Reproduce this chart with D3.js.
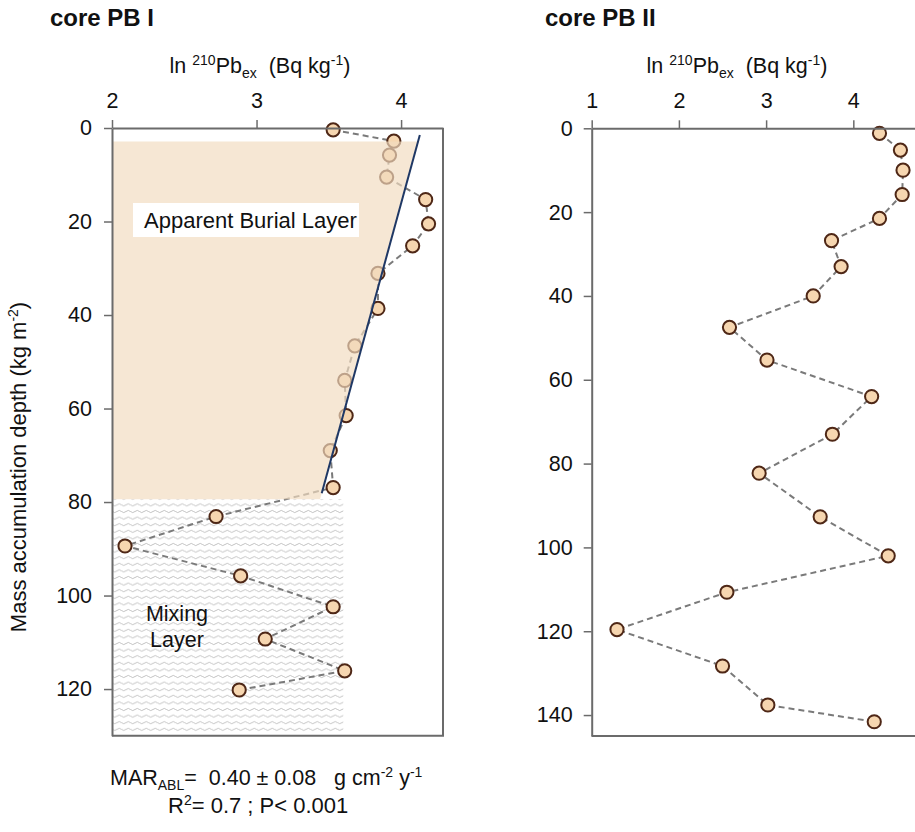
<!DOCTYPE html>
<html>
<head>
<meta charset="utf-8">
<script src="https://cdn.jsdelivr.net/npm/d3@7"></script>
<style>
  html, body { margin: 0; padding: 0; background: #fff; }
  svg text { font-family: Arial, "Liberation Sans", sans-serif; fill: #111; white-space: pre; }
</style>
</head>
<body>
<svg id="chart" width="915" height="832"></svg>
<script>
// Core PB I: excess 210Pb (natural log) against mass accumulation depth
const pb1Depth = [0.4, 2.8, 5.8, 10.5, 15.3, 20.5, 25.2, 31.1, 38.6, 46.6, 54.0, 61.5, 69.0, 76.9, 83.1, 89.4, 95.8, 102.4, 109.3, 116.1, 120.2];
const pb1Ln    = [3.53, 3.95, 3.92, 3.90, 4.17, 4.19, 4.08, 3.84, 3.84, 3.68, 3.61, 3.62, 3.51, 3.53, 2.72, 2.09, 2.89, 3.53, 3.06, 3.61, 2.88];

// Core PB II
const pb2Depth = [1.2, 5.2, 10.0, 15.8, 21.5, 26.8, 33.0, 40.0, 47.5, 55.3, 64.0, 73.0, 82.3, 92.7, 102.0, 110.7, 119.6, 128.3, 137.6, 141.6];
const pb2Ln    = [4.30, 4.54, 4.57, 4.56, 4.30, 3.75, 3.86, 3.54, 2.58, 3.01, 4.21, 3.76, 2.92, 3.62, 4.40, 2.55, 1.29, 2.50, 3.02, 4.24];

// Linear fit through the apparent burial layer (ln activity vs depth)
const fitIntercept = 4.143;
const fitSlope = -0.00886;
const fitDepthRange = [1.5, 78.1];

// Layer limits (kg m-2) and extent of the mixing-layer hatch (ln units)
const burialLayer = [2.9, 79.4];
const mixingLayer = [79.4, 129.3];
const mixingLnRange = [2.0, 3.6];

// Axis ticks
const pb1XTicks = [2, 3, 4];
const pb1YTicks = [0, 20, 40, 60, 80, 100, 120];
const pb2XTicks = [1, 2, 3, 4];
const pb2YTicks = [0, 20, 40, 60, 80, 100, 120, 140];

const svg = d3.select("#chart");

const COL = {
  axis: "#6b6b6b",
  ptFill: "#f6d6b0",
  ptStroke: "#4e2716",
  dash: "#7a7a7a",
  fit: "#1f3865",
  burial: "#f2dbc0",
  wave: "#b8b8b8"
};

// wavy hatch for the mixing layer
const defs = svg.append("defs");
const pat = defs.append("pattern")
  .attr("id", "waves")
  .attr("patternUnits", "userSpaceOnUse")
  .attr("width", 9).attr("height", 6.6);
pat.append("path")
  .attr("d", "M0,3.3 Q2.25,1.2 4.5,3.3 T9,3.3")
  .attr("fill", "none")
  .attr("stroke", COL.wave)
  .attr("stroke-width", 0.85);

function panel(opts) {
  const g = svg.append("g");
  const x = d3.scaleLinear().domain(opts.xDomain).range(opts.xRange);
  const y = d3.scaleLinear().domain(opts.yDomain).range(opts.yRange);

  if (opts.under) opts.under(g, x, y);

  // profile: dashed connector and circles
  const line = d3.line().x(d => x(d[1])).y(d => y(d[0]));
  const pts = opts.depth.map((d, i) => [d, opts.ln[i]]);
  g.append("path")
    .datum(pts)
    .attr("d", line)
    .attr("fill", "none")
    .attr("stroke", COL.dash)
    .attr("stroke-width", 2)
    .attr("stroke-dasharray", "6,4");
  g.selectAll("circle.pt")
    .data(pts)
    .join("circle")
    .attr("class", "pt")
    .attr("cx", d => x(d[1]))
    .attr("cy", d => y(d[0]))
    .attr("r", 6.6)
    .attr("fill", COL.ptFill)
    .attr("stroke", COL.ptStroke)
    .attr("stroke-width", 2);

  if (opts.over) opts.over(g, x, y);

  // frame
  const [x0, x1] = opts.xRange, [y0, y1] = opts.yRange;
  g.append("path")
    .attr("d", `M${x1},${y0}V${y1}H${x0}`)
    .attr("fill", "none")
    .attr("stroke", COL.axis)
    .attr("stroke-width", 2);

  // axes
  const xa = g.append("g")
    .attr("transform", `translate(0,${y0})`)
    .call(d3.axisTop(x).tickValues(opts.xTicks).tickSize(8).tickSizeOuter(0).tickPadding(12).tickFormat(d3.format("d")));
  const ya = g.append("g")
    .attr("transform", `translate(${x0},0)`)
    .call(d3.axisLeft(y).tickValues(opts.yTicks).tickSize(8).tickSizeOuter(0).tickPadding(opts.yPad).tickFormat(d3.format("d")));
  [xa, ya].forEach(a => {
    a.select(".domain").attr("stroke", COL.axis).attr("stroke-width", 2);
    a.selectAll(".tick line").attr("stroke", COL.axis).attr("stroke-width", 1.5);
    a.selectAll(".tick text").attr("font-size", 21.5).attr("fill", "#111")
      .style("font-family", "Arial, 'Liberation Sans', sans-serif");
  });
  xa.selectAll(".tick text").attr("dy", "0em");
  xa.selectAll(".tick line").attr("y1", 0);
  ya.selectAll(".tick line").attr("x1", 0);

  // panel title
  svg.append("text")
    .attr("x", opts.titleX).attr("y", 26)
    .attr("font-size", 24).attr("font-weight", "bold")
    .text(opts.title);

  // x-axis title: ln 210Pb_ex (Bq kg-1)
  const t = svg.append("text")
    .attr("x", opts.xTitleX).attr("y", 73)
    .attr("text-anchor", "middle")
    .attr("font-size", 21.5);
  t.append("tspan").text("ln ");
  t.append("tspan").attr("font-size", 14).attr("dy", -8).text("210");
  t.append("tspan").attr("dy", 8).text("Pb");
  t.append("tspan").attr("font-size", 14).attr("dy", 5).text("ex");
  t.append("tspan").attr("dy", -5).text("  (Bq kg");
  t.append("tspan").attr("font-size", 14).attr("dy", -8).text("-1");
  t.append("tspan").attr("dy", 8).text(")");

  return { x, y, g };
}

// ---- core PB I ----
panel({
  title: "core PB I",
  titleX: 50,
  xTitleX: 260,
  depth: pb1Depth, ln: pb1Ln,
  xDomain: [2, 4.29], xRange: [112, 443],
  yDomain: [0, 130], yRange: [128, 735.8],
  xTicks: pb1XTicks, yTicks: pb1YTicks, yPad: 12,
  under: (g, x, y) => {
    g.append("rect")
      .attr("x", x(mixingLnRange[0]) + 1)
      .attr("y", y(mixingLayer[0]))
      .attr("width", x(mixingLnRange[1]) - x(mixingLnRange[0]) - 1)
      .attr("height", y(mixingLayer[1]) - y(mixingLayer[0]))
      .attr("fill", "url(#waves)");
  },
  over: (g, x, y) => {
    const fit = d => fitIntercept + fitSlope * d;
    const poly = [
      [2, burialLayer[0]],
      [fit(burialLayer[0]), burialLayer[0]],
      [fit(burialLayer[1]), burialLayer[1]],
      [2, burialLayer[1]]
    ];
    // translucent burial-layer band laid over the profile
    g.append("path")
      .attr("d", "M" + poly.map(p => `${x(p[0])},${y(p[1])}`).join("L") + "Z")
      .attr("fill", COL.burial)
      .attr("fill-opacity", 0.68);

    g.append("line")
      .attr("x1", x(fit(fitDepthRange[0]))).attr("y1", y(fitDepthRange[0]))
      .attr("x2", x(fit(fitDepthRange[1]))).attr("y2", y(fitDepthRange[1]))
      .attr("stroke", COL.fit).attr("stroke-width", 2);

    // layer labels
    g.append("rect")
      .attr("x", 133).attr("y", 203).attr("width", 226).attr("height", 34)
      .attr("fill", "#fff");
    g.append("text").attr("x", 144).attr("y", 228).attr("font-size", 22)
      .text("Apparent Burial Layer");
    g.append("text").attr("x", 177).attr("y", 621).attr("font-size", 21.5)
      .attr("text-anchor", "middle").text("Mixing");
    g.append("text").attr("x", 177).attr("y", 647).attr("font-size", 21.5)
      .attr("text-anchor", "middle").text("Layer");
  }
});

// ---- core PB II ----
panel({
  title: "core PB II",
  titleX: 545,
  xTitleX: 737,
  depth: pb2Depth, ln: pb2Ln,
  xDomain: [1, 4.76], xRange: [591.7, 919.6],
  yDomain: [0, 145], yRange: [128.3, 736],
  xTicks: pb2XTicks, yTicks: pb2YTicks, yPad: 11
});

// y-axis title
const yl = svg.append("text")
  .attr("transform", "translate(26,467) rotate(-90)")
  .attr("text-anchor", "middle")
  .attr("font-size", 22);
yl.append("tspan").text("Mass accumulation depth (kg m");
yl.append("tspan").attr("font-size", 14).attr("dy", -8).text("-2");
yl.append("tspan").attr("dy", 8).text(")");

// fit statistics
const s1 = svg.append("text").attr("x", 110).attr("y", 785).attr("font-size", 21.5);
s1.append("tspan").text("MAR");
s1.append("tspan").attr("font-size", 14).attr("dy", 5).text("ABL");
s1.append("tspan").attr("dy", -5).text("=  0.40 \u00b1 0.08   g cm");
s1.append("tspan").attr("font-size", 14).attr("dy", -8).text("-2");
s1.append("tspan").attr("dy", 8).text(" y");
s1.append("tspan").attr("font-size", 14).attr("dy", -8).text("-1");

const s2 = svg.append("text").attr("x", 168).attr("y", 813).attr("font-size", 22);
s2.append("tspan").text("R");
s2.append("tspan").attr("font-size", 14).attr("dy", -8).text("2");
s2.append("tspan").attr("dy", 8).text("= 0.7 ; P< 0.001");
</script>
</body>
</html>
